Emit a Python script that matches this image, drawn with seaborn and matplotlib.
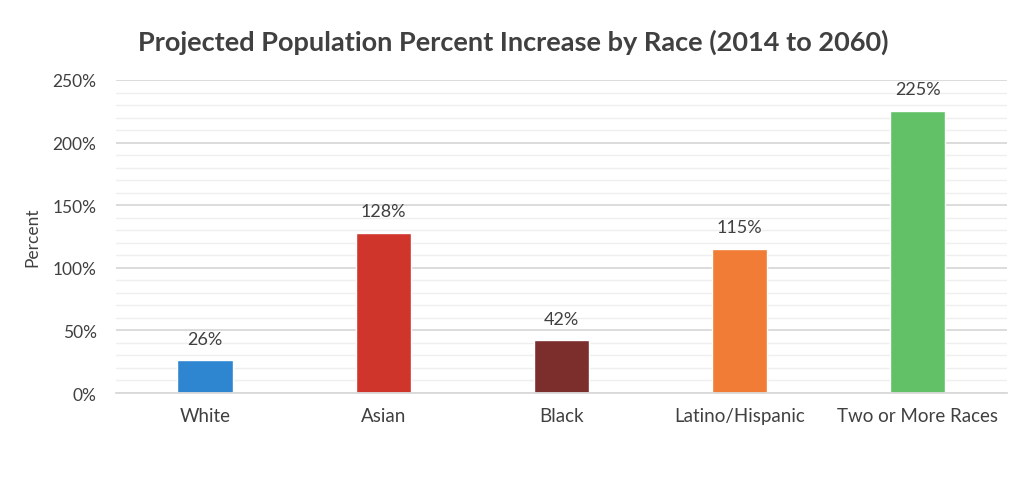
import matplotlib
matplotlib.use("Agg")
import matplotlib.pyplot as plt
import seaborn as sns
import pandas as pd
from matplotlib.ticker import MultipleLocator, FuncFormatter

categories = ["White", "Asian", "Black", "Latino/Hispanic", "Two or More Races"]
values = [26, 128, 42, 115, 225]
colors = ["#2E86D0", "#D0352B", "#7B2E2C", "#F07C35", "#62C167"]
yticks = [0, 50, 100, 150, 200, 250]

sns.set_theme(style="white")
plt.rcParams['font.family'] = ['Lato', 'DejaVu Sans']

df = pd.DataFrame({"Race": categories, "Percent": values})

fig = plt.figure(figsize=(10.24, 4.85), dpi=100)
ax = fig.add_axes([0.1133, 0.1876, 0.8697, 0.6454])

sns.barplot(data=df, x="Race", y="Percent", hue="Race", palette=colors,
            width=0.31, legend=False, ax=ax, saturation=1)

ax.set_ylim(0, 250)
ax.set_xlim(-0.5, len(categories) - 0.5)
ax.set_yticks(yticks)
ax.yaxis.set_minor_locator(MultipleLocator(10))
ax.yaxis.set_major_formatter(FuncFormatter(lambda v, p: f"{int(v)}%"))
ax.grid(axis="y", which="major", color="#D9D9D9", linewidth=1.3)
ax.grid(axis="y", which="minor", color="#EFEFEF", linewidth=1.0)
ax.set_axisbelow(True)
for s in ["top", "right", "left"]:
    ax.spines[s].set_visible(False)
ax.spines["bottom"].set_color("#D9D9D9")
ax.spines["bottom"].set_linewidth(1.3)
ax.tick_params(axis="y", which="both", length=0, labelsize=12.5, labelcolor="#404040", pad=14)
ax.tick_params(axis="x", length=0, labelsize=13.5, labelcolor="#404040", pad=10)
ax.set_xlabel("")
ax.set_ylabel("Percent", fontsize=12.5, color="#404040", labelpad=9)

for i, v in enumerate(values):
    ax.annotate(f"{v}%", (i, v), xytext=(0, 10), textcoords="offset points",
                ha="center", va="bottom", fontsize=13, color="#404040")

fig.text(0.501, 0.913, "Projected Population Percent Increase by Race (2014 to 2060)",
         ha="center", va="center", fontsize=19.5, fontweight="bold", color="#404040")

fig.savefig("out.png", dpi=100)
